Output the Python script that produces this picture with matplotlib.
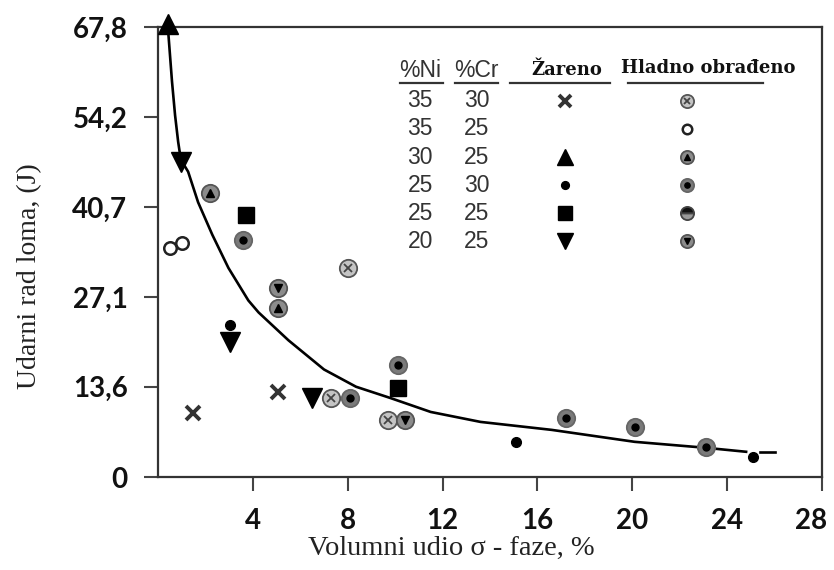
import numpy as np
from matplotlib import pyplot as plt
from matplotlib.transforms import ScaledTranslation

# fitted curve
curve_x = [0.42, 0.59, 0.72, 0.85, 0.93, 1.05, 1.27, 1.69, 2.29, 2.97, 3.81, 4.24, 5.5,
           7.0, 8.35, 9.8, 11.5, 13.6, 16.6, 20.1, 23.1, 24.8]
curve_y = [67.6, 59.6, 54.5, 50.5, 48.6, 47.3, 46.0, 41.4, 36.5, 31.5, 26.6, 24.8, 20.6,
           16.2, 13.6, 11.9, 9.8, 8.3, 7.1, 5.3, 4.4, 3.8]
tail_x = [25.4, 26.0]
tail_y = [3.8, 3.8]

# legend table rows
ni = ["35", "35", "30", "25", "25", "20"]
cr = ["30", "25", "25", "30", "25", "25"]

# annealed (Zareno) points per alloy
ann = {
    "35/30": ([1.48, 5.08], [9.6, 12.8]),
    "35/25": ([], []),
    "30/25": ([0.42], [68.2]),
    "25/30": ([3.05, 15.1, 25.1], [22.9, 5.3, 3.0]),
    "25/25": ([3.69, 10.1], [39.5, 13.4]),
    "20/25": ([0.95, 3.05, 6.5], [47.5, 20.3, 11.9]),
}
# cold worked (Hladno obradjeno) points per alloy
cold = {
    "35/30": ([8.0, 7.3, 9.7], [31.5, 11.9, 8.6]),
    "35/25": ([0.51, 1.02], [34.5, 35.3]),
    "30/25": ([2.2, 5.04], [42.8, 25.5]),
    "25/30": ([3.6, 8.1, 10.1, 17.2, 20.1, 23.1], [35.7, 11.9, 16.9, 8.9, 7.5, 4.5]),
    "25/25": ([], []),
    "20/25": ([5.04, 10.4], [28.5, 8.6]),
}

yticks = [0, 13.6, 27.1, 40.7, 54.2, 67.8]
ytick_labels = ["0", "13,6", "27,1", "40,7", "54,2", "67,8"]
xticks = [4, 8, 12, 16, 20, 24, 28]

ann_style = {
    "35/30": dict(marker="x", ms=10, mew=2.8, color="#333333"),
    "30/25": dict(marker="^", ms=14, color="black"),
    "25/30": dict(marker="o", ms=7, color="black"),
    "25/25": dict(marker="s", ms=12, color="black"),
    "20/25": dict(marker="v", ms=15, color="black"),
}


def cold_marker(ax, x, y, kind, ms, **kw):
    if len(x) == 0:
        return
    if kind == "35/30":
        ax.plot(x, y, ls="none", marker="o", ms=ms, mfc="#c4c4c4", mec="#555555", mew=1.3, zorder=4, **kw)
        ax.plot(x, y, ls="none", marker="x", ms=ms * 0.5, mew=1.3, color="#444444", zorder=5, **kw)
    elif kind == "35/25":
        ax.plot(x, y, ls="none", marker="o", ms=ms * 0.72, mfc="white", mec="#222222", mew=1.8, zorder=4, **kw)
    elif kind == "30/25":
        ax.plot(x, y, ls="none", marker="o", ms=ms, mfc="#8c8c8c", mec="#555555", mew=1.3, zorder=4, **kw)
        ax.plot(x, y, ls="none", marker="^", ms=ms * 0.5, color="black", zorder=5, **kw)
    elif kind == "25/30":
        ax.plot(x, y, ls="none", marker="o", ms=ms, mfc="#7a7a7a", mec="#666666", mew=1.3, zorder=4, **kw)
        ax.plot(x, y, ls="none", marker="o", ms=ms * 0.4, color="black", zorder=5, **kw)
    elif kind == "25/25":
        ax.plot(x, y, ls="none", marker="o", ms=ms, fillstyle="top", mfc="#111111",
                mfcalt="#9a9a9a", mec="#444444", mew=1.3, zorder=4, **kw)
    elif kind == "20/25":
        ax.plot(x, y, ls="none", marker="o", ms=ms, mfc="#8c8c8c", mec="#555555", mew=1.3, zorder=4, **kw)
        ax.plot(x, y, ls="none", marker="v", ms=ms * 0.5, color="black", zorder=5, **kw)


fig = plt.figure(figsize=(8.34, 5.70), dpi=100)
ax = fig.add_axes([158 / 834, 93 / 570, 664 / 834, 450 / 570])

ax.plot(curve_x, curve_y, color="black", lw=1.9, zorder=3)
ax.plot(tail_x, tail_y, color="black", lw=1.9, zorder=3)

for k, (x, y) in ann.items():
    if len(x):
        ax.plot(x, y, ls="none", zorder=6, clip_on=False, **ann_style[k])
for k, (x, y) in cold.items():
    cold_marker(ax, x, y, k, 12.5)

ax.set_xlim(0, 28)
ax.set_ylim(0, 67.8)
ax.set_xticks(xticks)
ax.set_yticks(yticks)
ax.set_yticklabels(ytick_labels)
for lab in ax.get_xticklabels() + ax.get_yticklabels():
    lab.set_fontfamily("Lato")
    lab.set_fontweight("bold")
    lab.set_fontsize(20)
    lab.set_color("#111111")
ax.tick_params(direction="out", length=10, width=1.5, pad=12, color="#444444")
last = ax.get_xticklabels()[-1]
last.set_transform(last.get_transform() + ScaledTranslation(-8 / 72, 0, fig.dpi_scale_trans))
for s in ax.spines.values():
    s.set_linewidth(1.6)
    s.set_color("#333333")

fig.text(451 / 834, 1 - 548 / 570, "Volumni udio σ - faze, %", family="Liberation Serif",
         fontsize=20.5, ha="center", va="center", color="#222222")
fig.text(30 / 834, 1 - 276 / 570, "Udarni rad loma, (J)", family="Liberation Serif",
         fontsize=20, ha="center", va="center", rotation=90, color="#222222")

# legend table
T = ax.transAxes
hy = 0.904
ax.text(0.395, hy, "%Ni", transform=T, ha="center", va="center", family="Liberation Sans", fontsize=16.5, color="#333333")
ax.text(0.480, hy, "%Cr", transform=T, ha="center", va="center", family="Liberation Sans", fontsize=16.5, color="#333333")
ax.text(0.616, hy, "Žareno", transform=T, ha="center", va="center", family="DejaVu Serif",
        fontweight="bold", fontsize=13, color="#111111")
ax.text(0.828, hy + 0.004, "Hladno obrađeno", transform=T, ha="center", va="center", family="DejaVu Serif",
        fontweight="bold", fontsize=13, color="#111111")
for x0, x1 in [(0.364, 0.429), (0.447, 0.512), (0.530, 0.681), (0.708, 0.911)]:
    ax.plot([x0, x1], [0.876, 0.876], transform=T, color="#333333", lw=1.6)

row_y = 0.836 - 0.0625 * np.arange(len(ni))
for i, k in enumerate(ann.keys()):
    yy = row_y[i]
    ax.text(0.395, yy, ni[i], transform=T, ha="center", va="center", family="Liberation Sans", fontsize=16.5, color="#333333")
    ax.text(0.480, yy, cr[i], transform=T, ha="center", va="center", family="Liberation Sans", fontsize=16.5, color="#333333")
    if k in ann_style:
        st = dict(ann_style[k])
        st["ms"] = st["ms"] * 0.8
        ax.plot([0.613], [yy], transform=T, ls="none", **st)
    cold_marker(ax, [0.797], [yy], k, 9.5, transform=T)

fig.savefig("out.png", dpi=100)
